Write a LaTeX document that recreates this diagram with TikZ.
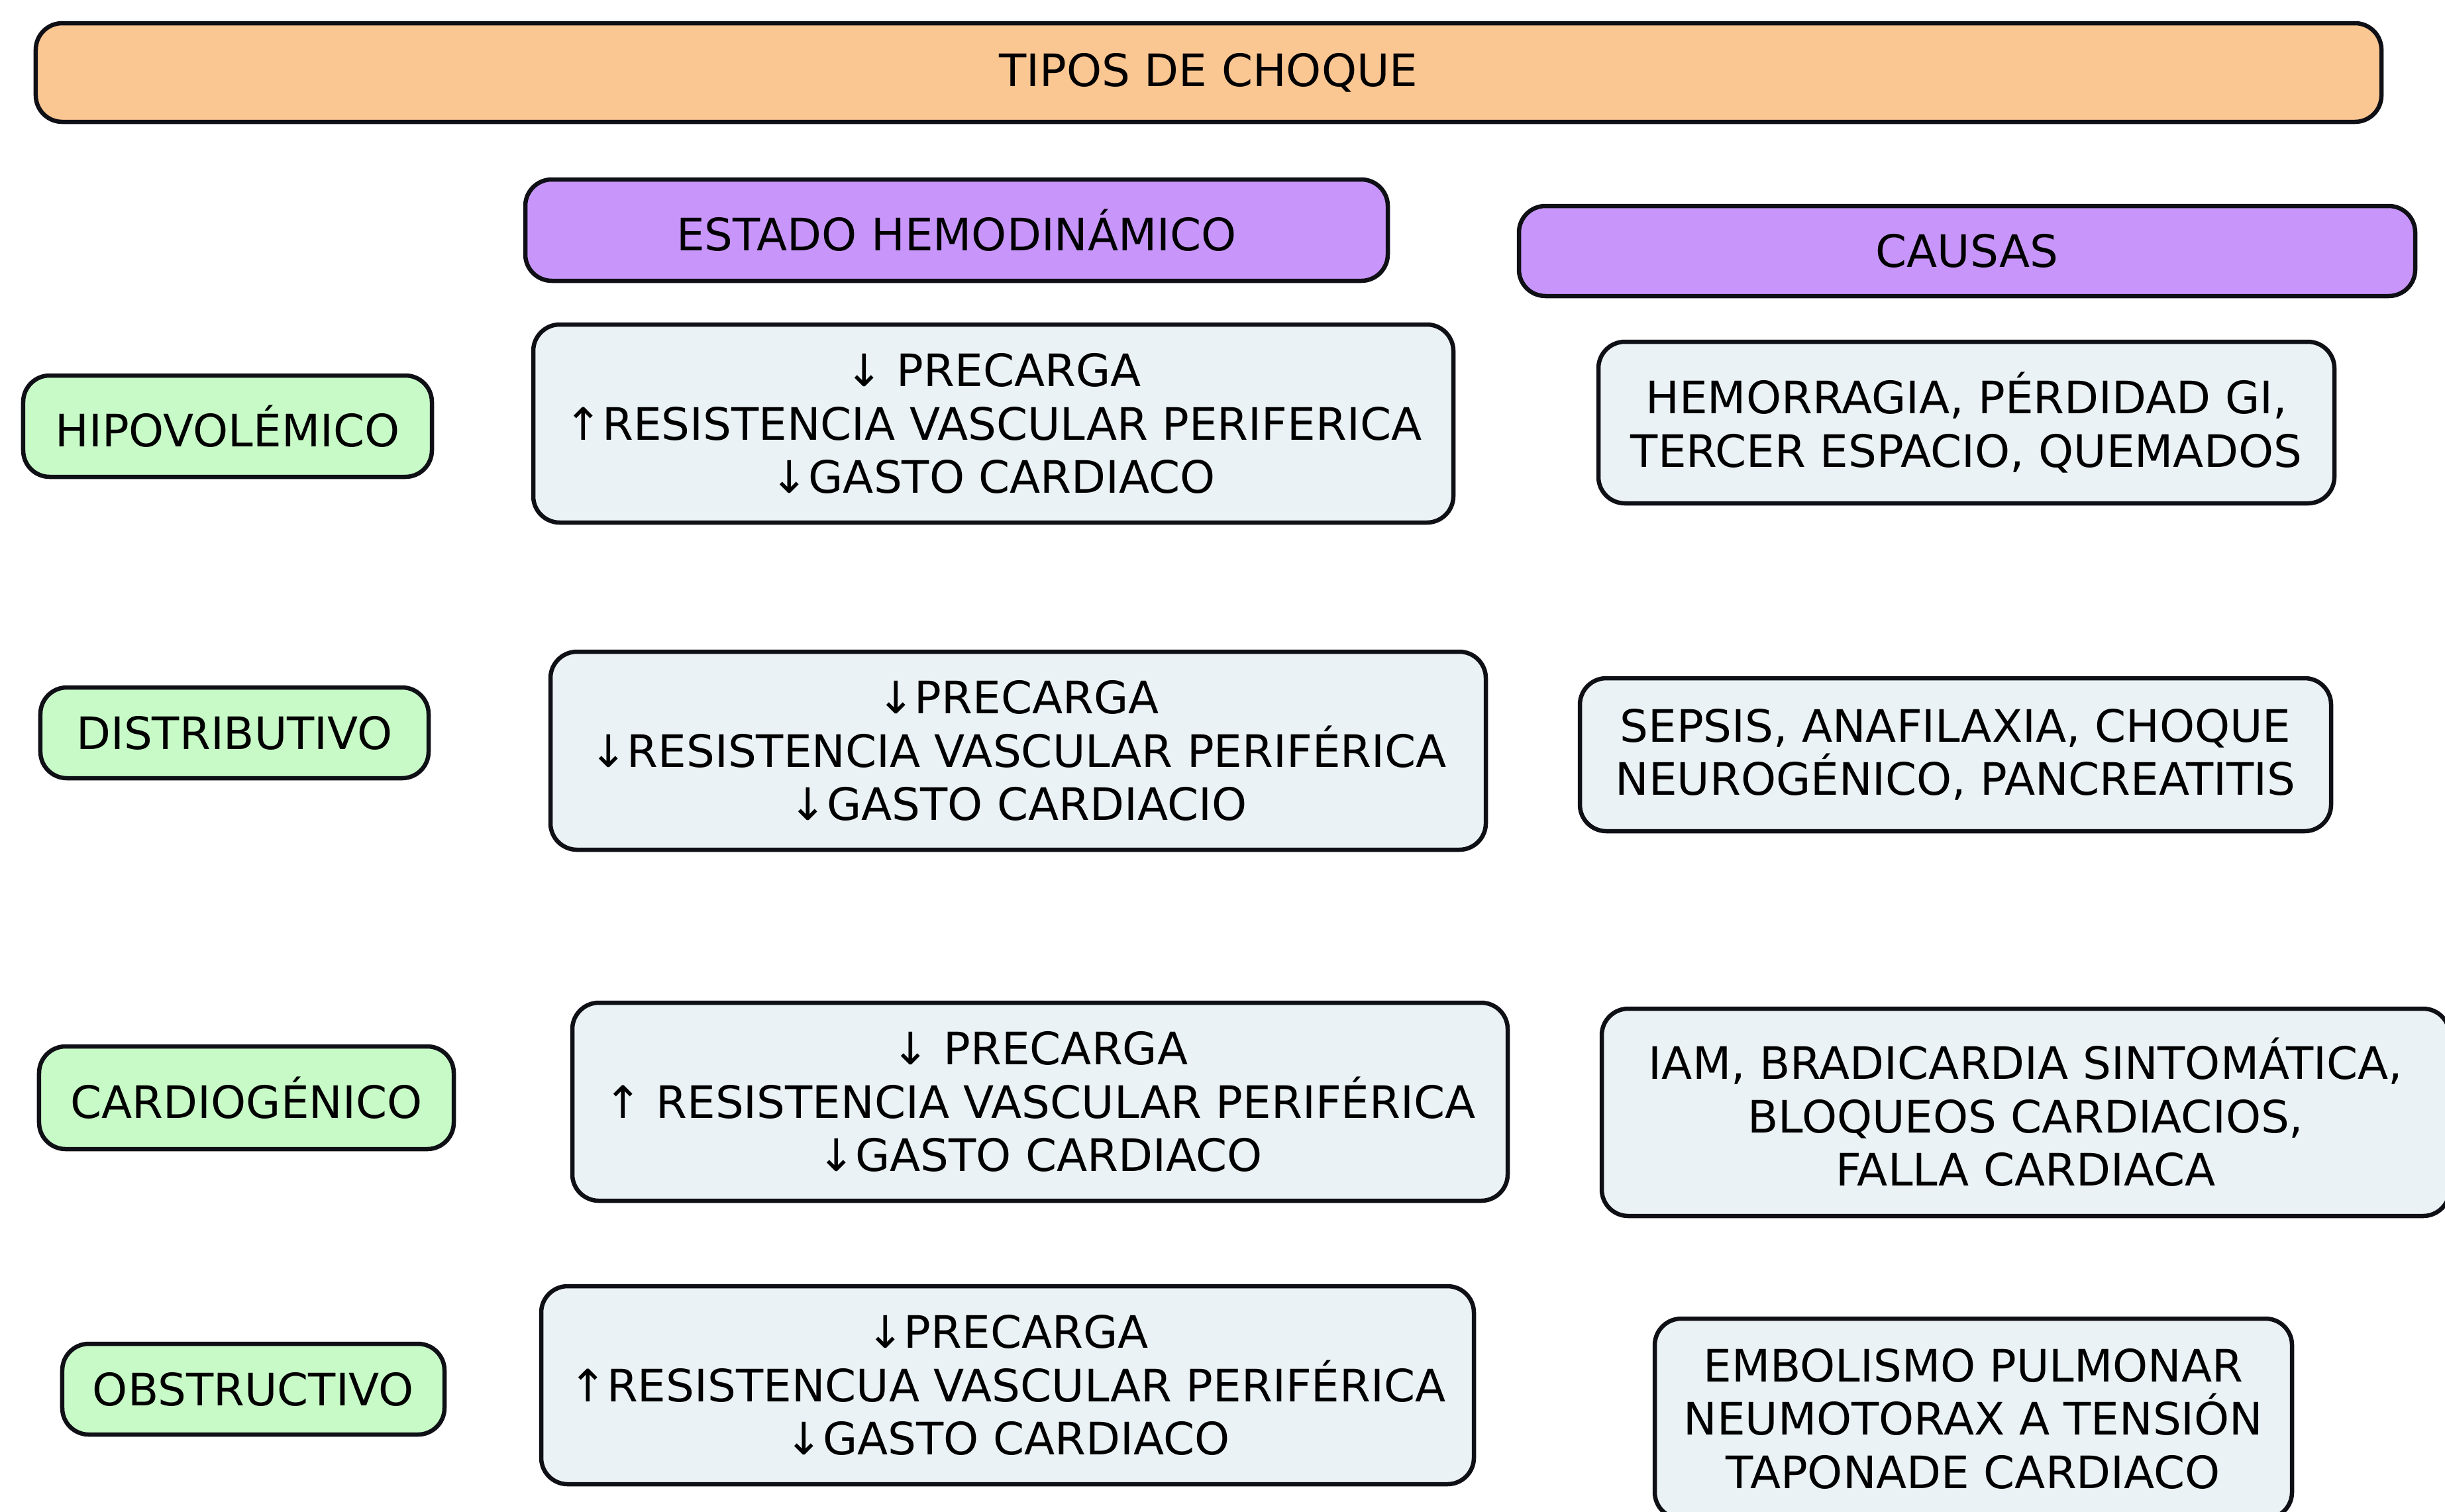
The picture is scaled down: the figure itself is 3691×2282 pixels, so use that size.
\documentclass[tikz,border=0pt]{standalone}
\usepackage{fontspec}
\setmainfont{DejaVu Sans}
\definecolor{peach}{RGB}{250,198,146}
\definecolor{lilac}{RGB}{200,150,250}
\definecolor{mint}{RGB}{200,250,200}
\definecolor{paleblue}{RGB}{235,242,245}
\definecolor{edge}{RGB}{15,15,22}
\tikzset{
  basebox/.style={draw=edge, line width=1.3pt, rounded corners=8pt, inner sep=0pt, align=center,
    font=\fontsize{13.5}{16.1}\selectfont, text=black},
  titlebox/.style={basebox, fill=peach},
  headbox/.style={basebox, fill=lilac},
  typebox/.style={basebox, fill=mint},
  infobox/.style={basebox, fill=paleblue},
}
\begin{document}
\begin{tikzpicture}[x=0.2pt,y=-0.2pt]
\useasboundingbox[fill=white] (0,0) rectangle (3691,2282);
\node[titlebox, minimum width=708.2pt, minimum height=29.8pt] (title) at (1824.5,109.5) {TIPOS DE CHOQUE};
\node[headbox, minimum width=260.4pt, minimum height=30.6pt] (estado) at (1444,347.5) {ESTADO HEMODINÁMICO};
\node[headbox, minimum width=270.6pt, minimum height=27.2pt] (causas) at (2969.5,379) {CAUSAS};

\node[typebox, minimum width=123.4pt, minimum height=30.6pt] (hipo) at (343.5,643.5) {HIPOVOLÉMICO};
\node[typebox, minimum width=117.2pt, minimum height=27.4pt] (distr) at (354,1106.5) {DISTRIBUTIVO};
\node[typebox, minimum width=125.2pt, minimum height=31pt] (cardio) at (372,1657.5) {CARDIOGÉNICO};
\node[typebox, minimum width=115.4pt, minimum height=27.4pt] (obstr) at (382.5,2097.5) {OBSTRUCTIVO};

\node[infobox, minimum width=277.8pt, minimum height=59.8pt] (hemoA) at (1499.5,639.5)
  {↓ PRECARGA\\↑RESISTENCIA VASCULAR PERIFERICA\\↓GASTO CARDIACO};
\node[infobox, minimum width=282.4pt, minimum height=59.8pt] (hemoB) at (1537,1133.5)
  {↓PRECARGA\\↓RESISTENCIA VASCULAR PERIFÉRICA\\↓GASTO CARDIACIO};
\node[infobox, minimum width=282.4pt, minimum height=59.8pt] (hemoC) at (1570,1663.5)
  {↓ PRECARGA\\↑ RESISTENCIA VASCULAR PERIFÉRICA\\↓GASTO CARDIACO};
\node[infobox, minimum width=281.6pt, minimum height=59.8pt] (hemoD) at (1521,2091.5)
  {↓PRECARGA\\↑RESISTENCUA VASCULAR PERIFÉRICA\\↓GASTO CARDIACO};

\node[infobox, minimum width=222.2pt, minimum height=48.8pt] (causeA) at (2968.5,638)
  {HEMORRAGIA, PÉRDIDAD GI,\\TERCER ESPACIO, QUEMADOS};
\node[infobox, minimum width=226.8pt, minimum height=46.2pt] (causeB) at (2952,1139.5)
  {SEPSIS, ANAFILAXIA, CHOQUE\\NEUROGÉNICO, PANCREATITIS};
\node[infobox, minimum width=256pt, minimum height=62.6pt] (causeC) at (3058,1679.5)
  {IAM, BRADICARDIA SINTOMÁTICA,\\BLOQUEOS CARDIACIOS,\\FALLA CARDIACA};
\node[infobox, minimum width=192.4pt, minimum height=60.4pt] (causeD) at (2979,2142)
  {EMBOLISMO PULMONAR\\NEUMOTORAX A TENSIÓN\\TAPONADE CARDIACO};
\end{tikzpicture}
\end{document}
